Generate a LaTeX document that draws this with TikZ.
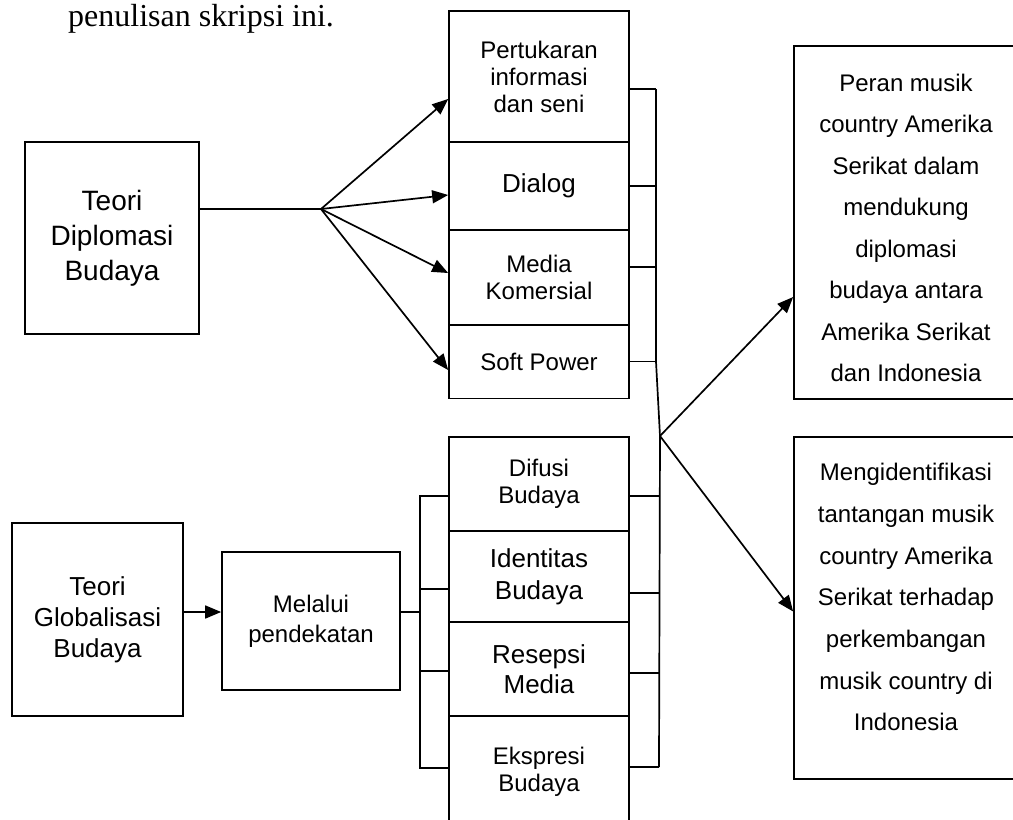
\documentclass[tikz,border=0pt]{standalone}
\usepackage{fontspec}
\setmainfont{Liberation Sans}
\newfontfamily\headfont{Liberation Serif}
\usetikzlibrary{arrows.meta}
\tikzset{
  kotak/.style={draw, line width=1.7pt, inner sep=2pt, align=center},
  panah/.style={line width=1.7pt, -{Triangle[length=16pt,width=13pt]}},
  garis/.style={line width=1.7pt},
}
\newcommand{\ukuran}[2]{\fontsize{#1}{#2}\selectfont}

\begin{document}
\begin{tikzpicture}[x=1pt,y=-1pt]
  \useasboundingbox (0,0) rectangle (1013,820);
  \clip (0,0) rectangle (1013,820);
  \node[anchor=base west, inner sep=0pt, font=\headfont\ukuran{32}{38}] (judul) at (68,26) {penulisan skripsi ini.};
  % teori
  \node[kotak, minimum width=174pt, minimum height=192pt, font=\ukuran{28}{35}] (dip) at (112,238) {Teori\\Diplomasi\\Budaya};
  \node[kotak, minimum width=171pt, minimum height=193pt, font=\ukuran{26}{31}] (glob) at (97.5,619.5) {Teori\\Globalisasi\\Budaya};
  \node[kotak, minimum width=178pt, minimum height=138pt, font=\ukuran{24}{30}] (mel) at (311,621) {Melalui\\pendekatan};
  % kolom atas
  \node[kotak, minimum width=180pt, minimum height=131pt, font=\ukuran{24}{27}] (pert) at (539,76.5) {Pertukaran\\informasi\\dan seni};
  \node[kotak, minimum width=180pt, minimum height=88pt, font=\ukuran{26}{31}] (dia) at (539,186) {Dialog};
  \node[kotak, minimum width=180pt, minimum height=95pt, font=\ukuran{24}{27}] (med) at (539,277.5) {Media\\Komersial};
  \node[kotak, minimum width=180pt, minimum height=74pt, font=\ukuran{24}{27}] (soft) at (539,361.5) {Soft Power};
  % kolom bawah
  \node[kotak, minimum width=180pt, minimum height=94pt, font=\ukuran{24}{27}] (dif) at (539,484) {Difusi\\Budaya};
  \node[kotak, minimum width=180pt, minimum height=91pt, font=\ukuran{26}{32}] (ide) at (539,576.5) {Identitas\\Budaya};
  \node[kotak, minimum width=180pt, minimum height=94pt, font=\ukuran{26}{30}] (res) at (539,669) {Resepsi\\Media};
  \node[kotak, minimum width=180pt, minimum height=111pt, font=\ukuran{24}{27}] (eks) at (539,771.5) {Ekspresi\\Budaya};
  % tujuan
  \node[kotak, minimum width=224pt, minimum height=353pt, font=\ukuran{24}{41.5}] (atas) at (906,222.5)
    {\rule{0pt}{28pt}Peran musik\\country Amerika\\Serikat dalam\\mendukung\\diplomasi\\budaya antara\\Amerika Serikat\\dan Indonesia};
  \node[kotak, minimum width=224pt, minimum height=342pt, font=\ukuran{24}{41.7}] (bawah) at (906,608)
    {Mengidentifikasi\\tantangan musik\\country Amerika\\Serikat terhadap\\perkembangan\\musik country di\\Indonesia\\[-20pt]};
  % titik bantu
  \coordinate (fan) at (321,209);
  \coordinate (busA) at (656,89);
  \coordinate (temu) at (660,436);
  \coordinate (busB) at (659,767);
  \coordinate (busK) at (420,496);
  \coordinate (busK2) at (420,768);
  % panah diplomasi
  \draw[garis] (dip.east |- fan) -- (fan);
  \draw[panah] (fan) -- ([yshift=-22.5pt]pert.west);
  \draw[panah] (fan) -- ([yshift=-9pt]dia.west);
  \draw[panah] (fan) -- ([yshift=4.5pt]med.west);
  \draw[panah] (fan) -- ([yshift=-8.5pt]soft.west);
  % kurung kanan
  \draw[garis] ([yshift=-12.5pt]pert.east) -- (busA);
  \draw[garis] (dia.east) -- (dia.east -| busA);
  \draw[garis] ([yshift=10.5pt]med.east) -- ([yshift=10.5pt]med.east -| busA);
  \draw[garis] (soft.east) -- (soft.east -| busA);
  \draw[garis] (busA) -- (busA |- soft.east) -- (temu) -- (busB);
  \draw[garis] ([yshift=-12pt]dif.east) -- ([yshift=-12pt]dif.east -| busB);
  \draw[garis] ([yshift=-16.5pt]ide.east) -- ([yshift=-16.5pt]ide.east -| busB);
  \draw[garis] ([yshift=-4pt]res.east) -- ([yshift=-4pt]res.east -| busB);
  \draw[garis] ([yshift=4.5pt]eks.east) -- (busB);
  % kurung kiri
  \draw[garis] ([yshift=-12pt]dif.west) -- (busK) -- (busK2) -- ([yshift=3.5pt]eks.west);
  \draw[garis] ([yshift=-12.5pt]ide.west) -- ([yshift=-12.5pt]ide.west -| busK);
  \draw[garis] ([yshift=-2pt]res.west) -- ([yshift=-2pt]res.west -| busK);
  \draw[garis] ([yshift=9pt]mel.east) -- ([yshift=9pt]mel.east -| busK);
  \draw[panah] ([yshift=7.5pt]glob.east) -- ([yshift=7.5pt]glob.east -| mel.west);
  % ke tujuan
  \draw[panah] (temu) -- ([yshift=-74.5pt]atas.west);
  \draw[panah] (temu) -- ([yshift=-3.5pt]bawah.west);
\end{tikzpicture}
\end{document}
